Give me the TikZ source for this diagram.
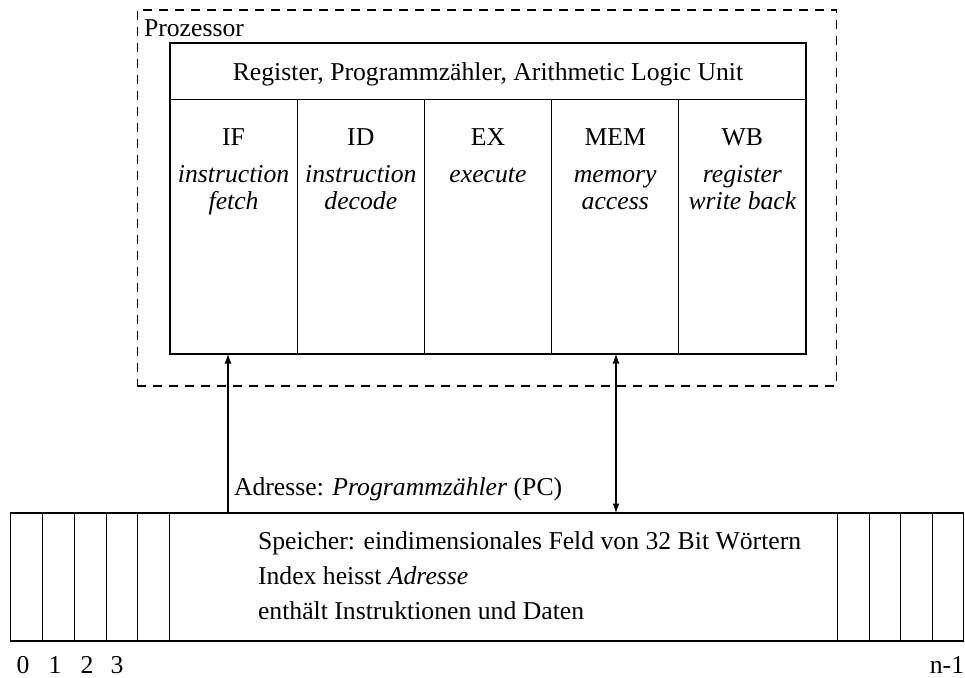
\documentclass[tikz,border=0pt]{standalone}
\usepackage{fontspec}
\setmainfont{Liberation Serif}
\usetikzlibrary{arrows.meta}
\begin{document}
\begin{tikzpicture}[x=1pt,y=-1pt,line width=1.1pt,
  box/.style={draw,inner sep=0pt,outer sep=0pt,anchor=north west},
  col/.style={box,minimum width=127.2pt,minimum height=254.7pt},
  cell/.style={box,minimum width=31.8pt,minimum height=128pt},
  txt/.style={inner sep=0pt,outer sep=0pt,font=\fontsize{25.7}{30}\selectfont},
  ttl/.style={txt,anchor=base},
  sub/.style={txt,anchor=base,font=\fontsize{25.7}{30}\selectfont\itshape},
  arr/.style={-{Latex[length=9.5pt,width=7pt]}},
  darr/.style={{Latex[length=9.5pt,width=7pt]}-{Latex[length=9.5pt,width=7pt]}}]
\useasboundingbox (0,0) rectangle (965,677);
% processor
\node[box,dash pattern=on 9pt off 7pt,minimum width=699.4pt,minimum height=376pt] (proc) at (137.3,10) {};
\node[txt,anchor=base west] (proclbl) at (144,37) {Prozessor};
\node[box,minimum width=636pt,minimum height=56.3pt] (hdr) at (170,43) {};
\node[ttl] (hdrtxt) at (488,80) {Register, Programmzähler, Arithmetic Logic Unit};
\node[col] (cif) at (170,99.3) {};
\node[col] (cid) at (297.2,99.3) {};
\node[col] (cex) at (424.4,99.3) {};
\node[col] (cmem) at (551.6,99.3) {};
\node[col] (cwb) at (678.8,99.3) {};
\foreach \n/\t/\a/\b in {cif/IF/instruction/fetch, cid/ID/instruction/decode, cex/EX/execute/, cmem/MEM/memory/access, cwb/WB/register/write back}{
  \node[ttl] (\n t) at (\n.north |- 0,145) {\t};
  \node[sub] (\n a) at (\n.north |- 0,182) {\a};
  \node[sub] (\n b) at (\n.north |- 0,209) {\b};
}
% memory
\node[box,minimum width=952.8pt,minimum height=128pt] (memory) at (10.7,513) {};
\foreach \i in {0,...,4}{
  \node[cell] (l\i) at (10.7+31.8*\i,513) {};
}
\foreach \i in {0,...,3}{
  \node[cell,minimum width=31.4pt] (r\i) at (837.9+31.4*\i,513) {};
}
\node[txt,anchor=base west] (m1) at (258,549) {Speicher: eindimensionales Feld von 32 Bit Wörtern};
\node[txt,anchor=base west] (m2) at (258,584) {Index heisst \textit{Adresse}};
\node[txt,anchor=base west] (m3) at (258,619) {enthält Instruktionen und Daten};
\node[txt,anchor=base] (n0) at (23,673) {0};
\node[txt,anchor=base] (n1) at (55,673) {1};
\node[txt,anchor=base] (n2) at (87,673) {2};
\node[txt,anchor=base] (n3) at (117,673) {3};
\node[txt,anchor=base] (nn) at (947,673) {n-1};
% arrows
\coordinate (pcb) at (228,513);
\coordinate (pct) at (228,354);
\coordinate (mmb) at (616,513);
\coordinate (mmt) at (616,354);
\draw[arr] (pcb) -- (pct);
\draw[darr] (mmb) -- (mmt);
\node[txt,anchor=base west] (addr) at (234,495) {Adresse: \textit{Programmzähler} (PC)};
\end{tikzpicture}
\end{document}
